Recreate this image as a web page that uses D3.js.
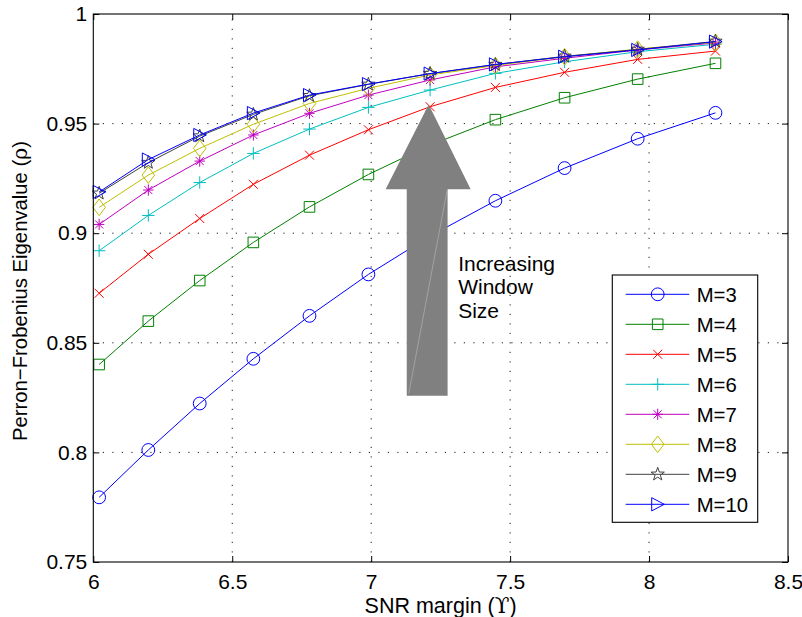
<!DOCTYPE html>
<html><head><meta charset="utf-8">
<script src="https://cdn.jsdelivr.net/npm/d3@7"></script>
<style>
body{margin:0;background:#fff}
text{font-family:"Liberation Sans",Arial,Helvetica,sans-serif;fill:#000}
</style>
</head><body>
<svg id="chart" width="802" height="617"></svg>
<script>
// ---- data ----
const snrMargin = [6.021, 6.198, 6.383, 6.576, 6.778, 6.990, 7.212, 7.447, 7.696, 7.959, 8.239];
const m3  = [0.7795, 0.8011, 0.8223, 0.8427, 0.8623, 0.8812, 0.8987, 0.9148, 0.9297, 0.9431, 0.9549];
const m4  = [0.8401, 0.8599, 0.8784, 0.8958, 0.9120, 0.9268, 0.9402, 0.9518, 0.9618, 0.9703, 0.9775];
const m5  = [0.8726, 0.8904, 0.9067, 0.9223, 0.9356, 0.9472, 0.9577, 0.9665, 0.9734, 0.9793, 0.9831];
const m6  = [0.8920, 0.9081, 0.9231, 0.9364, 0.9475, 0.9574, 0.9653, 0.9729, 0.9782, 0.9828, 0.9862];
const m7  = [0.9040, 0.9197, 0.9329, 0.9448, 0.9547, 0.9630, 0.9699, 0.9759, 0.9798, 0.9836, 0.9868];
const m8  = [0.9118, 0.9265, 0.9387, 0.9497, 0.9592, 0.9661, 0.9722, 0.9765, 0.9805, 0.9840, 0.9871];
const m9  = [0.9182, 0.9322, 0.9443, 0.9542, 0.9627, 0.9679, 0.9728, 0.9769, 0.9807, 0.9838, 0.9875];
const m10 = [0.9188, 0.9336, 0.9448, 0.9548, 0.9630, 0.9680, 0.9728, 0.9770, 0.9805, 0.9836, 0.9874];
const seriesNames = ["M=3","M=4","M=5","M=6","M=7","M=8","M=9","M=10"];
const seriesValues = [m3, m4, m5, m6, m7, m8, m9, m10];
const seriesColors = ["#0000ff","#008000","#ff0000","#00bfbf","#bf00bf","#bfbf00","#404040","#0000ff"];
const seriesMarkers = ["circle","square","x","plus","star","diamond","pentagram","triangleRight"];
const xTicks = [6, 6.5, 7, 7.5, 8, 8.5];
const yTicks = [0.75, 0.8, 0.85, 0.9, 0.95, 1];
const xLabel = "SNR margin (";
const yLabel = "Perron\u2212Frobenius Eigenvalue (";
const annotationLines = ["Increasing", "Window", "Size"];
// arrow annotation, in data units
const arrowShaft = {x0: 7.128, x1: 7.275, yBottom: 0.8259};
const arrowHead = {x0: 7.052, x1: 7.358, yBase: 0.9200, xTip: 7.207, yTip: 0.9587};

// ---- layout ----
const W = 802, H = 617;
const L = 93.3, R = 788, T = 14, B = 562;
const svg = d3.select("#chart");
svg.append("rect").attr("width", W).attr("height", H).attr("fill", "#fff");

const x = d3.scaleLinear().domain([6, 8.5]).range([L, R]);
const y = d3.scaleLinear().domain([0.75, 1]).range([B, T]);

// grid
const grid = svg.append("g").attr("stroke", "#000").attr("stroke-width", 0.9)
  .attr("stroke-dasharray", "1.2,8.3").attr("fill", "none");
xTicks.filter(t => t > 6 && t < 8.5).forEach(t => {
  grid.append("line").attr("x1", x(t)).attr("x2", x(t)).attr("y1", B).attr("y2", T);
});
yTicks.filter(t => t > 0.75 && t < 1).forEach(t => {
  grid.append("line").attr("y1", y(t)).attr("y2", y(t)).attr("x1", L).attr("x2", R);
});

// markers
function markerPath(type) {
  const p = d3.path();
  switch (type) {
    case "circle": p.moveTo(6.4, 0); p.arc(0, 0, 6.4, 0, 2 * Math.PI); break;
    case "square": p.rect(-5.3, -5.3, 10.6, 10.6); break;
    case "x": p.moveTo(-4.5,-4.5); p.lineTo(4.5,4.5); p.moveTo(-4.5,4.5); p.lineTo(4.5,-4.5); break;
    case "plus": p.moveTo(-6.2,0); p.lineTo(6.2,0); p.moveTo(0,-6.2); p.lineTo(0,6.2); break;
    case "star":
      p.moveTo(-5.2,0); p.lineTo(5.2,0); p.moveTo(0,-5.6); p.lineTo(0,5.6);
      p.moveTo(-4,-4); p.lineTo(4,4); p.moveTo(-4,4); p.lineTo(4,-4); break;
    case "diamond": p.moveTo(0,-8.3); p.lineTo(6.3,0); p.lineTo(0,8.3); p.lineTo(-6.3,0); p.closePath(); break;
    case "pentagram": {
      for (let i = 0; i < 10; i++) {
        const r = i % 2 === 0 ? 7 : 2.8;
        const a = -Math.PI / 2 + i * Math.PI / 5;
        const px = r * Math.cos(a), py = r * Math.sin(a);
        if (i === 0) p.moveTo(px, py); else p.lineTo(px, py);
      }
      p.closePath(); break;
    }
    case "triangleRight": p.moveTo(-6,-6.6); p.lineTo(6.6,0); p.lineTo(-6,6.6); p.closePath(); break;
  }
  return p.toString();
}

const line = d3.line().x((d, i) => x(snrMargin[i])).y(d => y(d));
const plot = svg.append("g");
seriesValues.forEach((vals, k) => {
  const g = plot.append("g");
  g.append("path").datum(vals).attr("d", line).attr("fill", "none")
    .attr("stroke", seriesColors[k]).attr("stroke-width", 1);
  g.selectAll("path.mk").data(vals).enter().append("path").attr("class", "mk")
    .attr("d", markerPath(seriesMarkers[k]))
    .attr("transform", (d, i) => `translate(${x(snrMargin[i])},${y(d)})`)
    .attr("fill", "none").attr("stroke", seriesColors[k]).attr("stroke-width", 1);
});

// arrow annotation
const arrowPts = [
  [x(arrowShaft.x0), y(arrowShaft.yBottom)],
  [x(arrowShaft.x0), y(arrowHead.yBase)],
  [x(arrowHead.x0), y(arrowHead.yBase)],
  [x(arrowHead.xTip), y(arrowHead.yTip)],
  [x(arrowHead.x1), y(arrowHead.yBase)],
  [x(arrowShaft.x1), y(arrowHead.yBase)],
  [x(arrowShaft.x1), y(arrowShaft.yBottom)]
];
svg.append("polygon").attr("points", arrowPts.map(p => p.join(",")).join(" "))
  .attr("fill", "#808080").attr("stroke", "none");
svg.append("line")
  .attr("x1", x(arrowShaft.x0) + 2).attr("y1", y(arrowShaft.yBottom) - 2)
  .attr("x2", x(arrowShaft.x1) - 0.5).attr("y2", y(arrowHead.yBase) + 1)
  .attr("stroke", "#b8b8b8").attr("stroke-width", 0.6);

const ann = svg.append("text").attr("font-size", 21);
annotationLines.forEach((s, i) => {
  ann.append("tspan").attr("x", x(7.313)).attr("y", 270.5 + i * 23.6).text(s);
});

// axes box + inward ticks
const fs = 21;
const axB = svg.append("g").attr("transform", `translate(0,${B})`)
  .call(d3.axisBottom(x).tickValues(xTicks).tickFormat(d3.format("")).tickSizeInner(-6).tickSizeOuter(0).tickPadding(12));
const axT = svg.append("g").attr("transform", `translate(0,${T})`)
  .call(d3.axisTop(x).tickValues(xTicks).tickFormat("").tickSizeInner(-6).tickSizeOuter(0));
const axL = svg.append("g").attr("transform", `translate(${L},0)`)
  .call(d3.axisLeft(y).tickValues(yTicks).tickFormat(d3.format("")).tickSizeInner(-6).tickSizeOuter(0).tickPadding(6));
const axR = svg.append("g").attr("transform", `translate(${R},0)`)
  .call(d3.axisRight(y).tickValues(yTicks).tickFormat("").tickSizeInner(-6).tickSizeOuter(0));
[axB, axT, axL, axR].forEach(a => {
  a.select(".domain").remove();
  a.selectAll(".tick line").attr("stroke", "#000").attr("stroke-width", 1);
  a.selectAll("text").attr("font-size", fs).attr("fill", "#000")
    .attr("font-family", '"Liberation Sans",Arial,sans-serif');
});
svg.append("rect").attr("x", L).attr("y", T).attr("width", R - L).attr("height", B - T)
  .attr("fill", "none").attr("stroke", "#000").attr("stroke-width", 1.1);

// axis labels
const xl = svg.append("text").attr("x", (L + R) / 2).attr("y", 613).attr("text-anchor", "middle").attr("font-size", 21.5);
xl.append("tspan").text(xLabel);
xl.append("tspan").attr("font-family", '"DejaVu Serif","Liberation Serif",serif').text("\u03D2");
xl.append("tspan").text(")");

const yl = svg.append("text").attr("transform", `translate(27,${(T + B) / 2 + 3}) rotate(-90)`)
  .attr("text-anchor", "middle").attr("font-size", 20.3);
yl.append("tspan").text(yLabel);
yl.append("tspan").attr("font-family", '"DejaVu Serif","Liberation Serif",serif').text("\u03C1");
yl.append("tspan").text(")");

// legend
const lg = svg.append("g");
lg.append("rect").attr("x", 612.3).attr("y", 275).attr("width", 145.4).attr("height", 247.3)
  .attr("fill", "#fff").attr("stroke", "#000").attr("stroke-width", 1.1);
seriesNames.forEach((name, k) => {
  const cy = 294.3 + k * 30;
  lg.append("line").attr("x1", 625.7).attr("x2", 689.3).attr("y1", cy).attr("y2", cy)
    .attr("stroke", seriesColors[k]).attr("stroke-width", 1);
  lg.append("path").attr("d", markerPath(seriesMarkers[k])).attr("transform", `translate(657.7,${cy})`)
    .attr("fill", "none").attr("stroke", seriesColors[k]).attr("stroke-width", 1);
  lg.append("text").attr("x", 696.7).attr("y", cy).attr("dy", "0.36em").attr("font-size", 20.3).text(name);
});
</script>
</body></html>
